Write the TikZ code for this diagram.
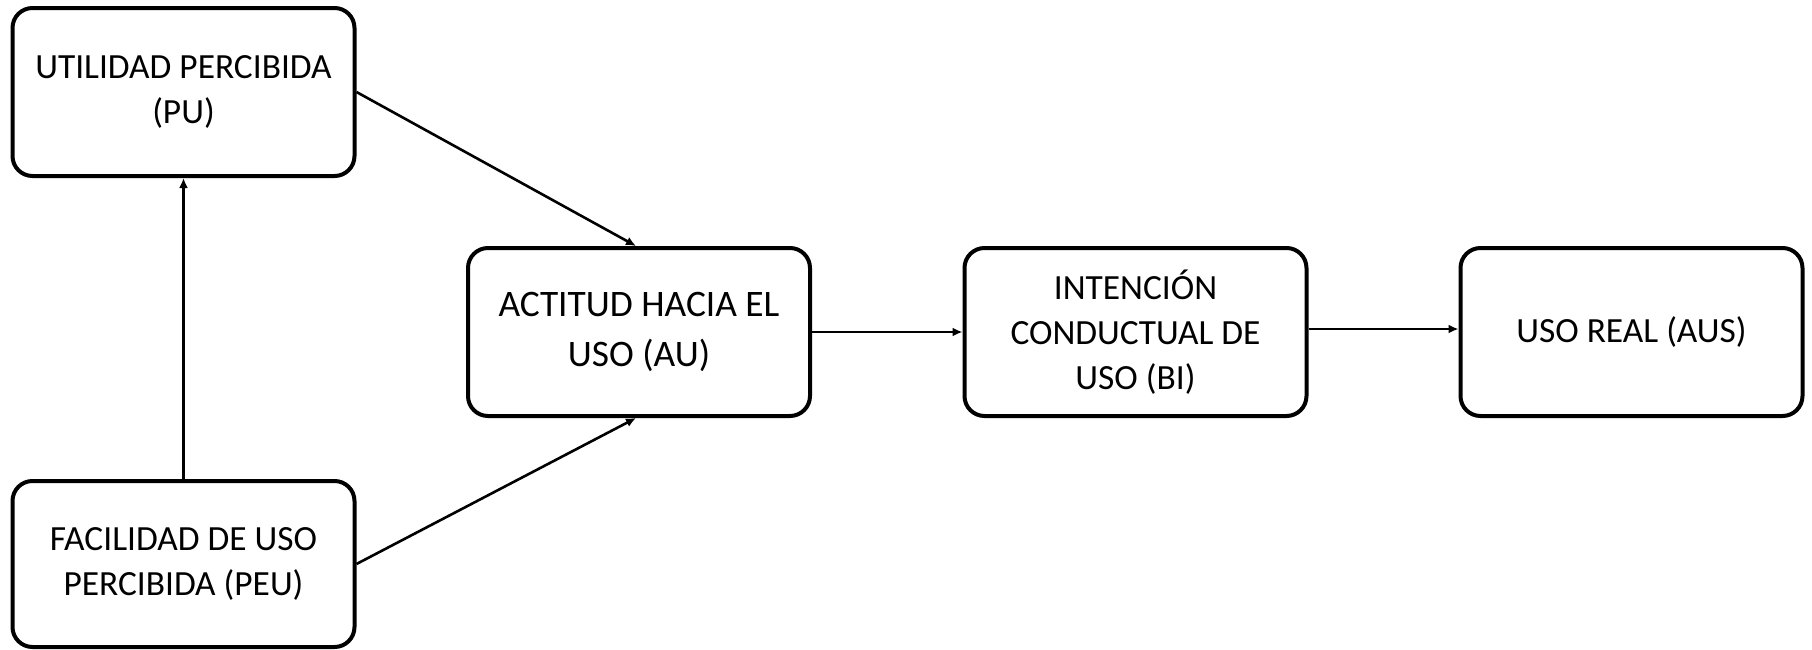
\documentclass[tikz,border=0pt]{standalone}
\usepackage{fontspec}
\setmainfont{Carlito}
\usetikzlibrary{arrows.meta}
\tikzset{
  box/.style={draw=black, line width=2pt, rounded corners=10pt, minimum width=171pt, minimum height=84pt, align=center, inner sep=2pt, fill=white,
    font=\fontsize{17.7}{22.5}\selectfont},
  conn/.style={line width=1.3pt, -{Latex[length=5pt,width=4.5pt]}}
}
\begin{document}
\begin{tikzpicture}[x=0.5pt,y=-0.5pt]
\useasboundingbox (0,0) rectangle (1812,649);
\node[box] (PU) at (183.5,92) {UTILIDAD PERCIBIDA\\(PU)};
\node[box, minimum height=83pt] (PEU) at (183.5,564) {FACILIDAD DE USO\\PERCIBIDA (PEU)};
\node[box, font=\fontsize{18.7}{25}\selectfont] (AU) at (639,332) {ACTITUD HACIA EL\\USO (AU)};
\node[box] (BI) at (1135.5,332) {INTENCIÓN\\CONDUCTUAL DE\\USO (BI)};
\node[box] (AUS) at (1631.5,332) {USO REAL (AUS)};
\draw[conn] (PEU.north) -- (PU.south);
\draw[conn] (PU.east) -- ([xshift=-1.5pt]AU.north);
\draw[conn] (PEU.east) -- ([xshift=-1.5pt]AU.south);
\draw[conn] (AU.east) -- (BI.west);
\draw[conn] ([yshift=1.5pt]BI.east) -- ([yshift=1.5pt]AUS.west);
\end{tikzpicture}
\end{document}
